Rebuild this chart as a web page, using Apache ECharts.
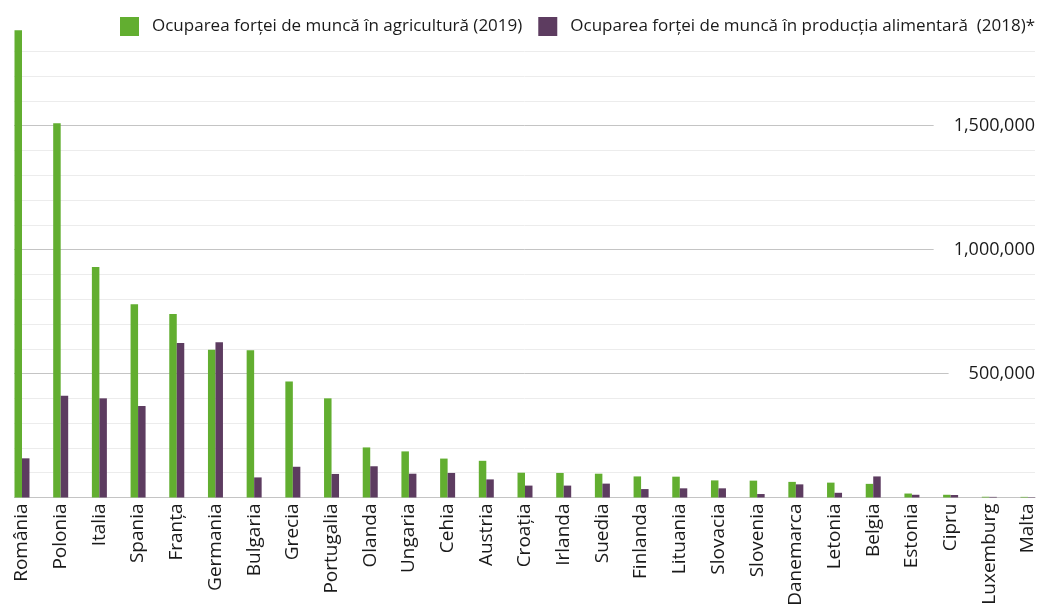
<!DOCTYPE html>
<html>
<head>
<meta charset="utf-8">
<script src="https://cdn.jsdelivr.net/npm/echarts@6/dist/echarts.min.js"></script>
<style>
    html, body { margin: 0; padding: 0; background: #fff; }
    #chart { width: 1039px; height: 604px; }
</style>
</head>
<body>
<div id="chart"></div>
<script>
// countries, sorted by agriculture employment
var countries = ['România', 'Polonia', 'Italia', 'Spania', 'Franța', 'Germania', 'Bulgaria', 'Grecia',
    'Portugalia', 'Olanda', 'Ungaria', 'Cehia', 'Austria', 'Croația', 'Irlanda', 'Suedia', 'Finlanda',
    'Lituania', 'Slovacia', 'Slovenia', 'Danemarca', 'Letonia', 'Belgia', 'Estonia', 'Cipru',
    'Luxemburg', 'Malta'];

var agricultura2019 = [1885000, 1510000, 930000, 780000, 740000, 596000, 594000, 468000,
    400000, 202000, 186000, 157000, 148000, 100000, 99000, 96000, 85000,
    84000, 69000, 68000, 63000, 60000, 55000, 16000, 11000,
    3000, 2500];

var alimentara2018 = [158000, 410000, 400000, 369000, 623000, 626000, 81000, 124000,
    95000, 126000, 96000, 99000, 73000, 48000, 48000, 56000, 34000,
    37000, 37000, 14000, 53000, 19000, 85000, 11000, 10000,
    2500, 1500];

var seriesNames = ['Ocuparea forței de muncă în agricultură (2019)',
    'Ocuparea forței de muncă în producția alimentară  (2018)*'];

var yMax = 1900000;
var font = 'Open Sans';

var chart = echarts.init(document.getElementById('chart'));

var option = {
    animation: false,
    backgroundColor: '#fff',
    color: ['#62ae30', '#5d3c60'],
    legend: {
        left: 120,
        top: 17,
        padding: 0,
        itemWidth: 19,
        itemHeight: 19,
        itemGap: 16,
        icon: 'rect',
        data: seriesNames,
        textStyle: { fontFamily: font, fontSize: 17, color: '#1a1a1a', padding: [0, 0, 0, 8] }
    },
    grid: [
        // gridlines + value labels
        { left: 14, right: 4, top: 26.5, bottom: 106.5, outerBoundsMode: 'none', containLabel: false },
        // bars
        { left: 22, right: 11, top: 26.5, bottom: 106.5, outerBoundsMode: 'none', containLabel: false }
    ],
    xAxis: [
        { gridIndex: 0, type: 'value', show: false, min: 0, max: 1 },
        {
            gridIndex: 1,
            type: 'category',
            data: countries,
            boundaryGap: false,
            axisLine: { show: false },
            axisTick: { show: false },
            axisLabel: {
                rotate: 90,
                interval: 0,
                margin: 6,
                fontFamily: font,
                fontSize: 19,
                color: '#1a1a1a'
            }
        }
    ],
    yAxis: [
        {
            // light 100k lines
            gridIndex: 0,
            type: 'value',
            position: 'right',
            min: 0,
            max: yMax,
            interval: 100000,
            axisLine: { show: false },
            axisTick: { show: false },
            axisLabel: { show: false },
            splitLine: { show: true, showMaxLine: false, lineStyle: { color: '#ececec', width: 1 } }
        },
        {
            // major 500k lines with labels
            gridIndex: 0,
            type: 'value',
            position: 'right',
            min: 0,
            max: yMax,
            interval: 500000,
            axisLine: { show: false },
            axisTick: { show: false },
            splitLine: { show: true, showMaxLine: false, lineStyle: { color: '#c4c4c4', width: 1 } },
            axisLabel: {
                inside: true,
                margin: 0,
                showMinLabel: false,
                showMaxLabel: false,
                fontFamily: font,
                fontSize: 18,
                color: '#1a1a1a',
                backgroundColor: '#fff',
                padding: [2, 0, 2, 20],
                formatter: function (v) {
                    return v.toLocaleString('en-US');
                }
            }
        },
        { gridIndex: 1, type: 'value', min: 0, max: yMax, show: false, splitLine: { show: false } }
    ],
    series: [
        {
            name: seriesNames[0],
            type: 'bar',
            xAxisIndex: 1,
            yAxisIndex: 2,
            barWidth: 7.5,
            barGap: '0%',
            data: agricultura2019
        },
        {
            name: seriesNames[1],
            type: 'bar',
            xAxisIndex: 1,
            yAxisIndex: 2,
            barWidth: 7.5,
            barGap: '0%',
            data: alimentara2018
        }
    ]
};

chart.setOption(option);
</script>
</body>
</html>
